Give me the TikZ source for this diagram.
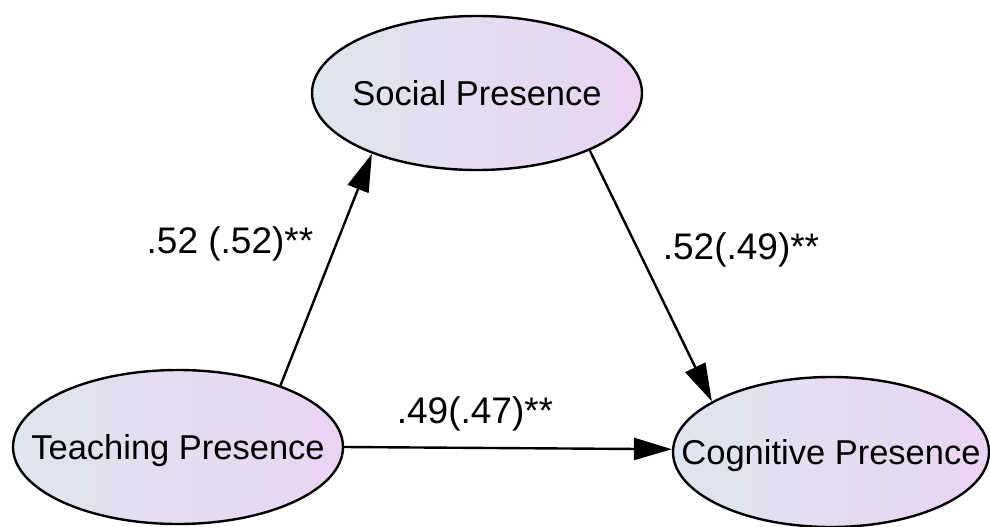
\documentclass[tikz,border=0pt]{standalone}
\usepackage{fontspec}
\setmainfont{Liberation Sans}
\usetikzlibrary{arrows.meta,shapes.geometric}
\definecolor{fillL}{HTML}{DFE5EE}
\definecolor{fillR}{HTML}{EAD4F3}
\tikzset{
  latent/.style={ellipse, draw=black, line width=2.4pt, inner sep=0pt,
    left color=fillL, right color=fillR,
    minimum width=330pt, minimum height=154pt,
    text height=24pt, text depth=0pt,
    font=\fontsize{34.5}{40}\selectfont},
  path/.style={line width=2.4pt,
    -{Triangle[length=38pt,width=22pt]}},
  coef/.style={font=\fontsize{37}{42}\selectfont, inner sep=0pt}
}
\begin{document}
\begin{tikzpicture}[x=1pt,y=-1pt]
  \useasboundingbox (0,0) rectangle (990,527);
  % latent constructs
  \node[latent] (sp) at (477,93)  {\makebox[0pt]{Social Presence}};
  \node[latent] (tp) at (178,447) {\makebox[0pt]{Teaching Presence}};
  \node[latent, minimum width=316pt, minimum height=150pt] (cp) at (831,452)
    {\makebox[0pt]{Cognitive Presence}};
  % structural paths
  \draw[path] (tp.31) -- (sp.210);
  \draw[path] (sp.333) -- (cp.157);
  \draw[path] (tp.0) -- (cp.179);
  % path coefficients
  \node[coef] (c1) at (230,244) {.52 (.52)**};
  \node[coef] (c2) at (475,414) {.49(.47)**};
  \node[coef] (c3) at (741,250) {.52(.49)**};
\end{tikzpicture}
\end{document}
